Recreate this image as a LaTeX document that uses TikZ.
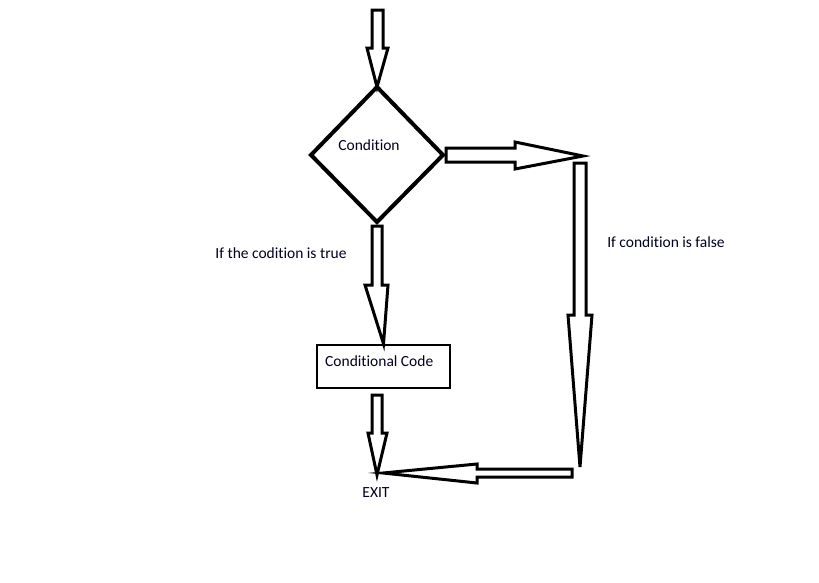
\documentclass[tikz,border=0pt]{standalone}
\usepackage{fontspec}
\setmainfont[Ligatures={NoCommon}]{Carlito}
\usetikzlibrary{shapes.geometric}
\begin{document}
\begin{tikzpicture}[x=1pt,y=-1pt,
  blockarrow/.style={draw=black,line width=3pt,fill=white,line join=miter},
  lbl/.style={inner sep=0pt,font=\fontsize{15.5}{18}\selectfont,text=black!88!blue}]
\useasboundingbox (0,0) rectangle (819,582);
% condition diamond
\coordinate (dT) at (377,87);
\coordinate (dL) at (311,155);
\coordinate (dR) at (443,155);
\coordinate (dB) at (377,222);
\draw[line width=4pt,line join=miter] (dT) -- (dR) -- (dB) -- (dL) -- cycle;
\node[lbl] (cond) at (369,145) {Condition};
% conditional code box
\node[draw,line width=2.5pt,minimum width=133pt,minimum height=43pt,inner sep=0pt] (box) at (383.5,366.5) {};
\node[lbl,anchor=west] (code) at (325,361) {Conditional Code};
% top entry arrow
\draw[blockarrow] (372,10) -- (383,10) -- (383,48) -- (388,48) -- (dT) -- (367,48) -- (372,48) -- cycle;
% true arrow: diamond to box
\draw[blockarrow] (372,226) -- (382,226) -- (382,285) -- (388,285) -- (box.north) -- (365,285) -- (372,285) -- cycle;
% box to exit
\coordinate (exitpt) at (377,475);
\draw[blockarrow] (372,395) -- (382,395) -- (382,433) -- (387,433) -- (exitpt) -- (368,433) -- (372,433) -- cycle;
\node[lbl] (exit) at (376,493) {EXIT};
% false arrow right
\coordinate (rt) at (583,156);
\draw[blockarrow] (446,148) -- (515,148) -- (515,142) -- (rt) -- (515,169) -- (515,162) -- (446,162) -- cycle;
% false arrow down
\coordinate (dnTip) at (580,467);
\draw[blockarrow] (574,163) -- (586,163) -- (586,315) -- (592,315) -- (dnTip) -- (568,315) -- (574,315) -- cycle;
% back arrow to exit
\coordinate (lfTip) at (383,473);
\draw[blockarrow] (572,469) -- (477,469) -- (477,464) -- (lfTip) -- (477,483) -- (477,477) -- (572,477) -- cycle;
% labels
\node[lbl] (truelbl) at (281,253) {If the codition is true};
\node[lbl] (falselbl) at (666,242) {If condition is false};
\end{tikzpicture}
\end{document}
